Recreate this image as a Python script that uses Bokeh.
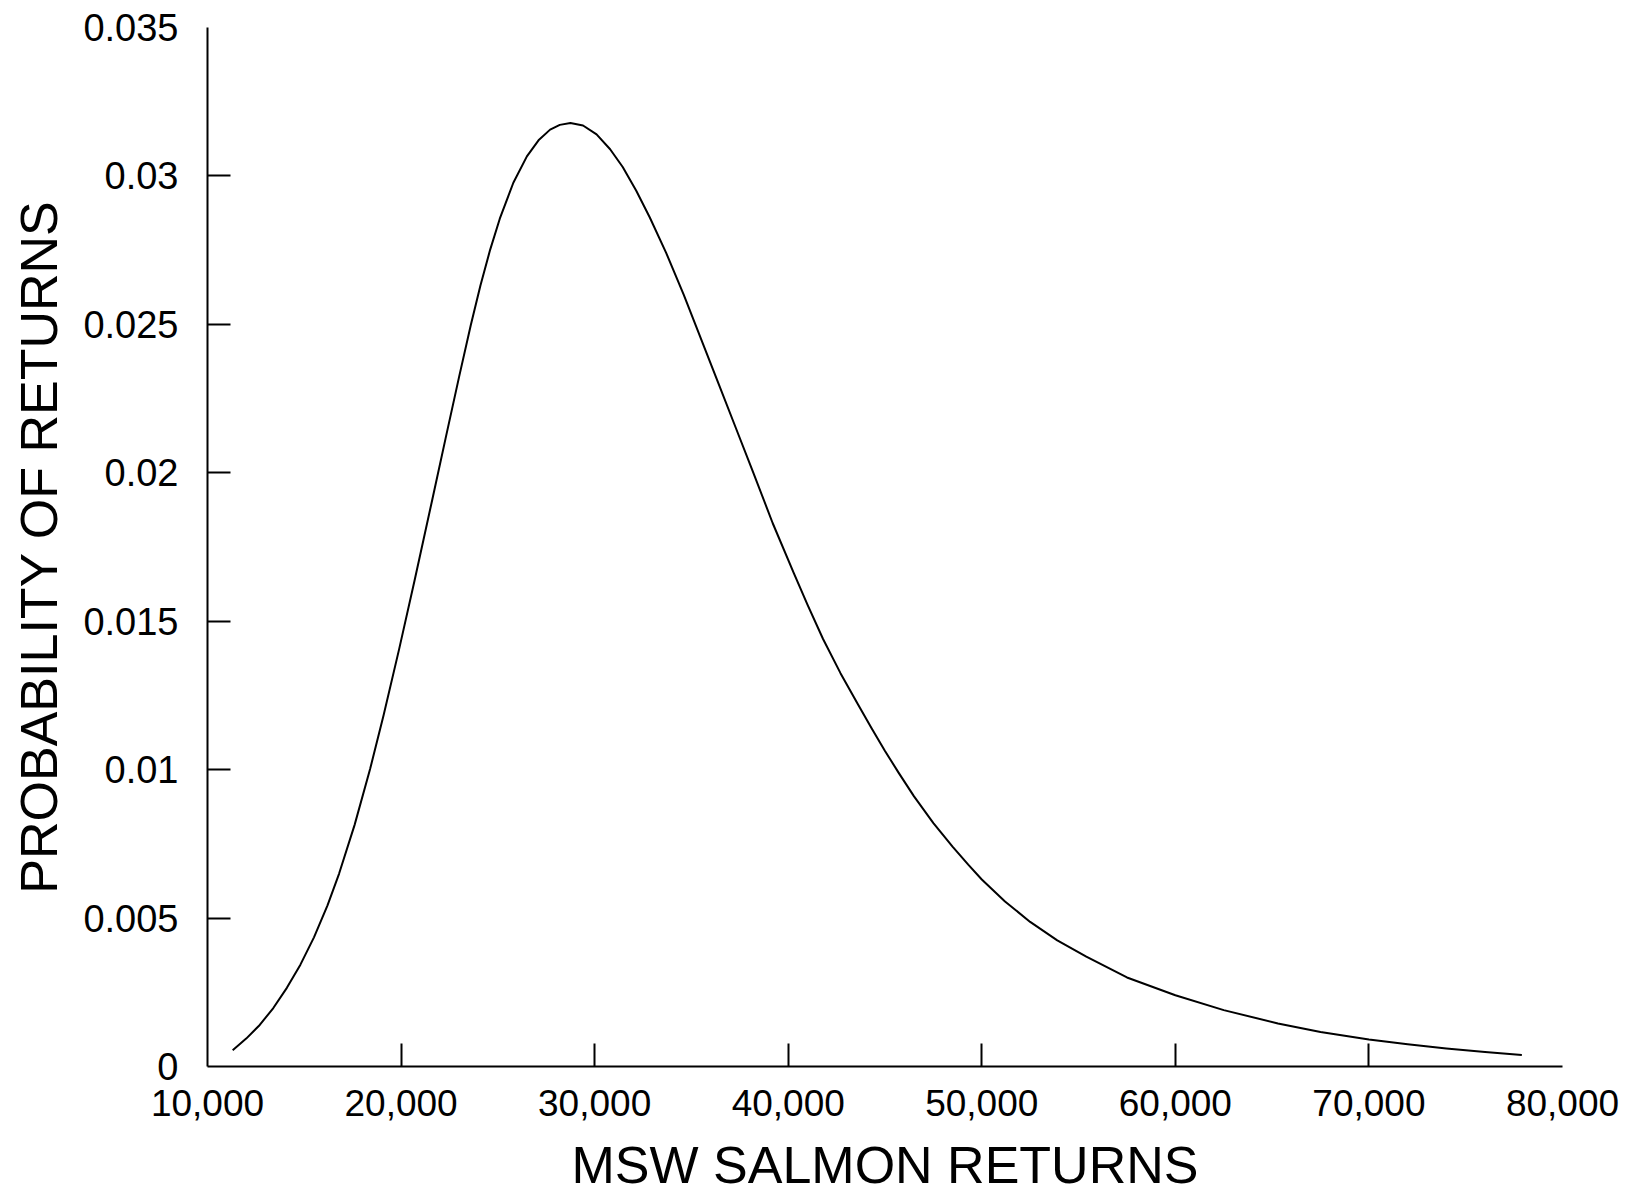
from bokeh.plotting import figure
from bokeh.models import LinearAxis, FixedTicker, Range1d
from bokeh.embed import file_html
from bokeh.resources import INLINE

# MSW salmon returns (x) and probability density (y)
returns = [11300, 12000, 12700, 13400, 14100, 14800, 15500, 16200, 16800, 17600,
           18400, 19100, 19900, 20700, 21600, 22300, 23000, 23600, 24100, 24600,
           25100, 25800, 26500, 27100, 27700, 28200, 28750, 29400, 30100, 30800,
           31450, 32150, 32850, 33700, 34600, 35500, 36400, 37300, 38200, 39200,
           40300, 41000, 41800, 42700, 43600, 44300, 45000, 45700, 46500, 47500,
           48500, 49300, 50000, 51200, 52500, 53900, 55400, 57500, 60000, 62500,
           65300, 67500, 70000, 72000, 74000, 76000, 77900]
prob = [0.00055, 0.00094, 0.0014, 0.00197, 0.00265, 0.00343, 0.00435, 0.00543, 0.0065, 0.00814,
        0.01002, 0.01184, 0.01406, 0.01638, 0.01906, 0.02116, 0.02324, 0.02497, 0.02631, 0.02751,
        0.02856, 0.02977, 0.03066, 0.0312, 0.03156, 0.03172, 0.03178, 0.0317, 0.0314, 0.0309,
        0.0303, 0.0295, 0.0286, 0.0274, 0.0260, 0.0245, 0.0230, 0.0215, 0.0200, 0.0183,
        0.0166, 0.01555, 0.0144, 0.01325, 0.0122, 0.0114, 0.01063, 0.0099, 0.0091, 0.0082,
        0.0074, 0.0068, 0.0063, 0.00556, 0.00487, 0.00425, 0.0037, 0.0030, 0.0024, 0.0019,
        0.00145, 0.00116, 0.00091, 0.00075, 0.00061, 0.00049, 0.00039]

x_ticks = [10000, 20000, 30000, 40000, 50000, 60000, 70000, 80000]
x_tick_labels = ["10,000", "20,000", "30,000", "40,000", "50,000", "60,000", "70,000", "80,000"]
y_ticks = [0, 0.005, 0.01, 0.015, 0.02, 0.025, 0.03, 0.035]
y_tick_labels = ["0", "0.005", "0.01", "0.015", "0.02", "0.025", "0.03", "0.035"]
x_title = "MSW SALMON RETURNS"
y_title = "PROBABILITY OF RETURNS"

FONT = "Liberation Sans"

p = figure(width=1622, height=1196,
           x_range=Range1d(x_ticks[0], x_ticks[-1]),
           y_range=Range1d(y_ticks[0], y_ticks[-1]),
           output_backend="svg", toolbar_location=None,
           min_border_left=207, min_border_right=60,
           min_border_top=27, min_border_bottom=126)
p.grid.visible = False
p.outline_line_color = None
p.background_fill_color = "white"
p.border_fill_color = "white"

# tick-only axes (next to the frame): inward ticks, no labels
for ax, ticks in ((p.xaxis[0], x_ticks[1:-1]), (p.yaxis[0], y_ticks[1:-1])):
    ax.ticker = FixedTicker(ticks=ticks)
    ax.axis_line_color = "black"
    ax.axis_line_width = 2
    ax.major_tick_line_color = "black"
    ax.major_tick_line_width = 2
    ax.major_tick_in = 23
    ax.major_tick_out = 0
    ax.minor_tick_line_color = None
    ax.major_label_text_font_size = "0px"
    ax.major_label_standoff = 0
    ax.major_label_overrides = {t: "" for t in ticks}

# label axes (outer): tick labels and titles
xlab = LinearAxis(ticker=FixedTicker(ticks=x_ticks),
                  major_label_overrides={t: s for t, s in zip(x_ticks, x_tick_labels)})
ylab = LinearAxis(ticker=FixedTicker(ticks=y_ticks),
                  major_label_overrides={t: s for t, s in zip(y_ticks, y_tick_labels)})
for ax, size, standoff, title, tstand in ((xlab, "37px", 23, x_title, 17),
                                          (ylab, "38px", 29, y_title, 12)):
    ax.axis_line_color = None
    ax.major_tick_line_color = None
    ax.minor_tick_line_color = None
    ax.major_tick_in = 0
    ax.major_tick_out = 0
    ax.major_label_text_font = FONT
    ax.major_label_text_font_size = size
    ax.major_label_text_color = "black"
    ax.major_label_standoff = standoff
    ax.axis_label = title
    ax.axis_label_text_font = FONT
    ax.axis_label_text_font_size = "52px"
    ax.axis_label_text_font_style = "normal"
    ax.axis_label_text_color = "black"
    ax.axis_label_standoff = tstand
p.add_layout(xlab, "below")
p.add_layout(ylab, "left")

p.line(returns, prob, line_width=2, line_color="black", line_join="round")

open("out.html", "w").write(file_html(p, INLINE))
